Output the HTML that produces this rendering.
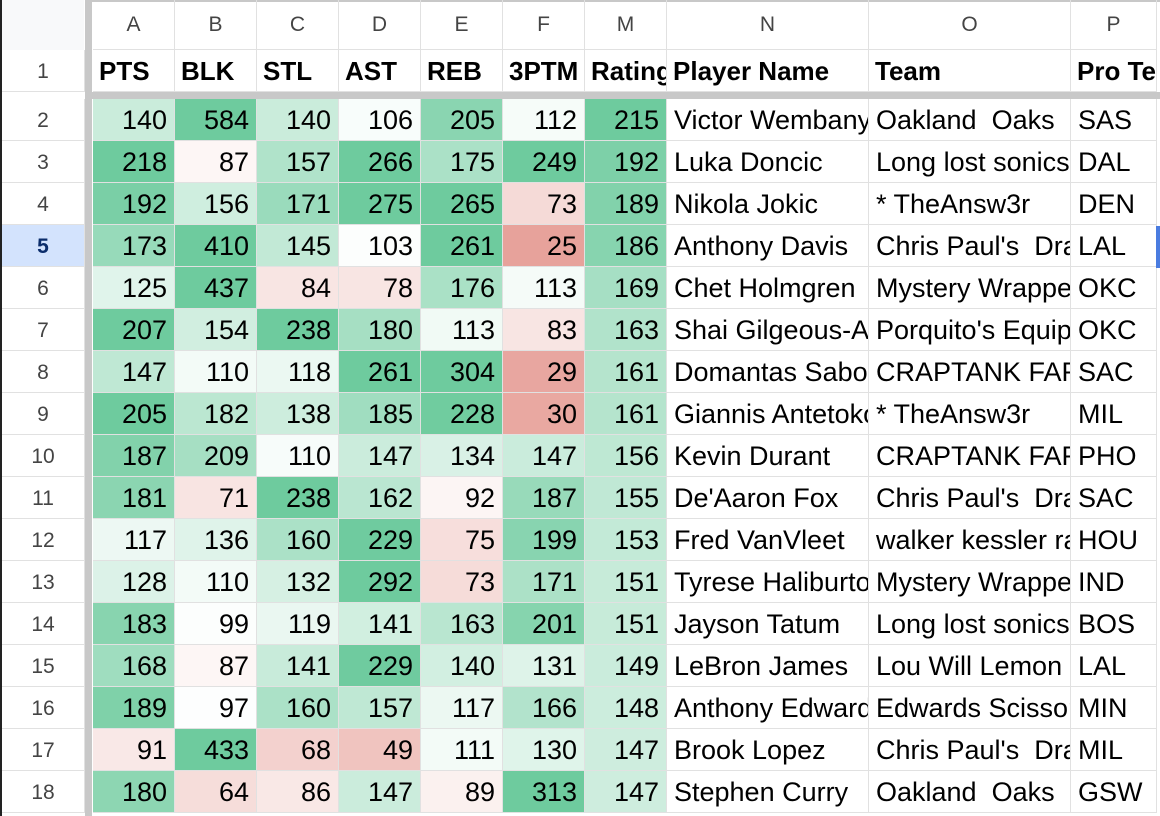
<!DOCTYPE html>
<html><head><meta charset="utf-8">
<style>
body{margin:0;width:1160px;height:816px;overflow:hidden;background:#fff;font-family:"Liberation Sans",Arial,sans-serif;position:relative}
.c{position:absolute;box-sizing:border-box;border-right:1px solid #e1e1e1;border-bottom:1px solid #e1e1e1;overflow:hidden;white-space:pre;font-size:27px;color:#000;line-height:43px}
.n{text-align:right;padding-right:7px}
.t{text-align:left;padding-left:7px}
.ch{font-size:21px;color:#444;text-align:center;line-height:50px}
.rh{font-size:21px;color:#444;text-align:center}
.h{font-weight:bold;font-size:26px;padding-left:6px}
</style></head><body>
<div style="position:absolute;left:2px;top:0;width:82px;height:50px;background:#f8f9fa"></div>
<div style="position:absolute;left:0;top:0;width:2px;height:816px;background:#222"></div>
<div style="position:absolute;left:85px;top:0;width:7px;height:816px;background:#c8c8c8"></div>
<div style="position:absolute;left:85px;top:92px;width:1075px;height:7px;background:#c8c8c8"></div>
<div style="position:absolute;left:85px;top:0;width:1075px;height:2px;background:#c8c8c8"></div>
<div id="g"></div>
<div style="position:absolute;left:1156px;top:226px;width:4px;height:42px;background:#4a7ce0"></div>
<script>
const letters=["A","B","C","D","E","F","M","N","O","P"];
const headers=["PTS","BLK","STL","AST","REB","3PTM","Rating","Player Name","Team","Pro Te"];
const pts=[140,218,192,173,125,207,147,205,187,181,117,128,183,168,189,91,180];
const blk=[584,87,156,410,437,154,110,182,209,71,136,110,99,87,97,433,64];
const stl=[140,157,171,145,84,238,118,138,110,238,160,132,119,141,160,68,86];
const ast=[106,266,275,103,78,180,261,185,147,162,229,292,141,229,157,49,147];
const reb=[205,175,265,261,176,113,304,228,134,92,75,73,163,140,117,111,89];
const tpm=[112,249,73,25,113,83,29,30,147,187,199,171,201,131,166,130,313];
const rating=[215,192,189,186,169,163,161,161,156,155,153,151,151,149,148,147,147];
const names=["Victor Wembanyama","Luka Doncic","Nikola Jokic","Anthony Davis","Chet Holmgren","Shai Gilgeous-Alexander","Domantas Sabonis","Giannis Antetokounmpo","Kevin Durant","De'Aaron Fox","Fred VanVleet","Tyrese Haliburton","Jayson Tatum","LeBron James","Anthony Edwards","Brook Lopez","Stephen Curry"];
const teams=["Oakland  Oaks","Long lost sonics","* TheAnsw3r","Chris Paul's  Dragons","Mystery Wrapper","Porquito's Equipo","CRAPTANK FARM","* TheAnsw3r","CRAPTANK FARM","Chris Paul's  Dragons","walker kessler rant","Mystery Wrapper","Long lost sonics","Lou Will Lemon Pepper","Edwards Scissorhands","Chris Paul's  Dragons","Oakland  Oaks"];
const pro=["SAS","DAL","DEN","LAL","OKC","OKC","SAC","MIL","PHO","SAC","HOU","IND","BOS","LAL","MIN","MIL","GSW"];
const numCols=[pts,blk,stl,ast,reb,tpm,rating];
const mids=[105,95,105,100,100,105,120];
const gmax=[200,280,200,230,230,220,200];
const rmin=[40,0,20,10,20,15,40];
const xs=[93,175,257,339,421,503,585,667,869,1071,1157];
const g=document.getElementById('g');
function lerp(a,b,t){return Math.round(a+(b-a)*t);}
function color(v,i){
  if(v>=mids[i]){let t=Math.min(1,(v-mids[i])/(gmax[i]-mids[i]));return `rgb(${lerp(255,110,t)},${lerp(255,203,t)},${lerp(255,158,t)})`;}
  let t=Math.min(1,(mids[i]-v)/(mids[i]-rmin[i]));return `rgb(${lerp(255,228,t)},${lerp(255,150,t)},${lerp(255,142,t)})`;
}
function cell(x,y,w,h,cls,txt,bg){
  const d=document.createElement('div');d.className='c '+cls;
  d.style.left=x+'px';d.style.top=y+'px';d.style.width=w+'px';d.style.height=h+'px';
  if(bg)d.style.background=bg;d.textContent=txt;g.appendChild(d);return d;
}
for(let c=0;c<10;c++){
  const w=xs[c+1]-xs[c];
  const d=cell(xs[c],0,w,50,'ch',letters[c]);
  
  
  const h=cell(xs[c],50,w,42,'h',headers[c]);
  
  
}
const r1=cell(2,50,83,42,'rh','1');


for(let r=0;r<17;r++){
  const y=99+r*42;
  const rh=cell(2,y,83,42,'rh',String(r+2),r===3?'#d3e3fd':null);
  if(r===3){rh.style.fontWeight='bold';rh.style.color='#0b2d6b';}
  
  
  for(let c=0;c<7;c++){
    const v=numCols[c][r];
    const d=cell(xs[c],y,xs[c+1]-xs[c],42,'n',String(v),color(v,c));
    
    
  }
  const arrs=[names,teams,pro];
  for(let k=0;k<3;k++){
    const c=7+k;
    const d=cell(xs[c],y,xs[c+1]-xs[c],42,'t',arrs[k][r]);
    
    
  }
}
</script>
</body></html>
